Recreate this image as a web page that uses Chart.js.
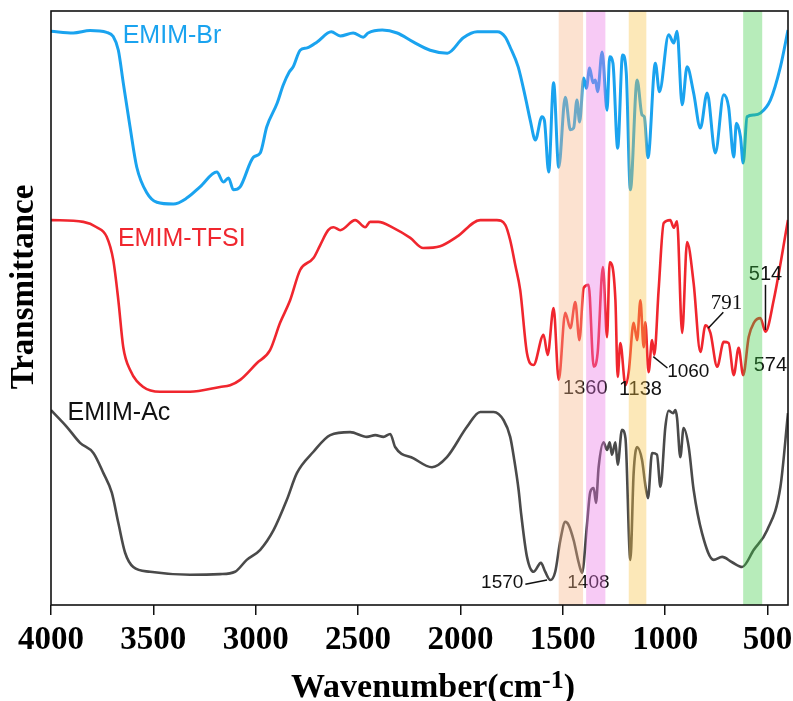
<!DOCTYPE html>
<html><head><meta charset="utf-8">
<script src="https://cdn.jsdelivr.net/npm/chart.js@4"></script>
<style>html,body{margin:0;padding:0;background:#fff}canvas{display:block}</style>
</head><body>
<canvas id="c" width="793" height="701"></canvas>
<script>
// ---- data (wavenumber in cm-1, transmittance in arbitrary offset units) ----
const xTickLabels = [4000, 3500, 3000, 2500, 2000, 1500, 1000, 500];
const seriesNames = ['EMIM-Br', 'EMIM-TFSI', 'EMIM-Ac'];

const brWavenumber = [4000,3891,3809,3728,3696,3671,3647,3614,3581,3532,3483,3402,3337,3272,3190,3158,3133,3109,3076,3011,2978,2946,2895,2866,2837,2817,2783,2749,2700,2631,2587,2524,2475,2451,2382,2309,2231,2148,2064,1986,1918,1820,1781,1757,1718,1683,1659,1634,1602,1590,1569,1545,1520,1488,1463,1447,1431,1418,1398,1385,1369,1352,1341,1330,1308,1284,1271,1255,1232,1208,1190,1170,1137,1113,1102,1084,1048,1028,983,958,942,917,893,861,828,795,755,714,690,665,652,632,619,600,567,535,486,437,400];
const brTransmittance = [96.6,96.3,96.7,96.4,95.7,93.4,87.9,80.5,73.7,69.4,67.8,67.5,68.5,70.4,72.9,71.2,71.9,69.9,70.4,75.4,76.1,80.5,84.5,87.5,89.7,90.6,93.4,93.8,94.8,96.5,95.8,96.3,95.6,96.3,96.8,96.3,94.8,93.4,92.9,95.5,96.5,96.5,95.6,93.9,90.6,85.5,81.6,78.3,82.2,81.6,72.9,87.9,73.7,85.5,80.0,80.3,85.0,81.3,88.7,87.0,90.4,87.9,88.4,86.4,93.1,83.3,92.3,91.2,76.9,92.6,89.6,69.9,88.4,82.5,82.2,75.3,91.2,86.4,96.0,94.6,96.6,84.2,90.6,86.2,80.3,86.2,76.1,85.9,83.8,75.4,81.1,78.8,74.4,82.2,82.5,82.8,85.0,90.6,96.8];

const tfsiWavenumber = [4000,3842,3777,3728,3696,3671,3647,3614,3549,3467,3321,3174,3125,3076,2995,2930,2881,2832,2783,2718,2685,2646,2620,2587,2514,2465,2441,2402,2328,2245,2182,2099,2017,1903,1822,1781,1757,1732,1708,1675,1643,1594,1574,1545,1520,1488,1463,1439,1419,1398,1374,1349,1330,1304,1284,1271,1243,1232,1219,1194,1178,1154,1137,1121,1105,1097,1081,1064,1053,1032,1007,975,958,942,917,893,861,828,803,779,746,714,690,665,641,619,592,567,535,510,470,400];
const tfsiTransmittance = [64.8,64.5,63.6,62.0,58.1,51.3,43.4,39.6,36.7,35.9,35.9,36.7,37.0,37.9,40.7,42.9,47.5,51.3,56.4,58.4,60.6,63.1,63.6,63.1,64.8,63.6,64.5,64.5,63.5,61.8,60.1,60.4,62.0,64.8,64.8,64.0,61.4,57.2,53.0,42.4,40.4,45.5,42.1,50.0,37.9,49.2,46.6,51.0,44.6,53.4,53.9,40.1,42.4,56.9,45.1,57.7,51.3,38.4,44.1,37.0,39.2,47.5,44.6,51.3,43.4,47.6,39.2,44.6,42.1,53.0,64.3,64.8,63.5,64.6,45.8,61.1,54.2,42.6,47.1,45.8,40.1,44.3,44.1,38.7,43.3,38.7,45.1,47.5,48.3,46.0,51.3,64.8];

const acWavenumber = [4000,3923,3858,3793,3744,3703,3671,3638,3598,3516,3321,3174,3101,3044,2978,2913,2848,2799,2718,2636,2539,2457,2416,2376,2343,2319,2229,2139,2066,1968,1903,1838,1789,1757,1737,1716,1703,1675,1643,1607,1586,1561,1537,1512,1488,1472,1447,1423,1406,1382,1366,1349,1338,1325,1301,1284,1271,1260,1243,1232,1211,1194,1170,1154,1137,1113,1097,1084,1064,1040,1023,999,983,961,950,942,926,910,885,861,820,763,722,673,624,567,502,437,400];
const acTransmittance = [32.8,30.0,27.3,25.6,22.2,18.9,13.8,8.8,6.4,5.6,5.1,5.2,5.6,7.6,9.3,12.6,17.7,22.2,25.8,28.6,29.1,28.3,28.6,28.3,28.8,26.6,24.7,23.2,24.9,30.0,32.5,32.5,31.1,28.3,24.4,19.4,15.2,8.1,5.6,7.1,5.6,4.2,5.6,10.9,14.0,13.5,10.9,7.2,5.4,13.5,19.0,19.7,17.2,23.2,27.4,26.1,27.4,25.3,27.4,23.6,29.5,28.1,7.6,22.2,26.6,24.4,20.2,18.0,25.6,25.3,19.9,30.0,32.7,32.3,32.8,31.5,24.9,29.8,26.6,19.4,12.1,7.6,8.1,7.2,6.4,9.3,12.6,19.9,32.3];

const peakLabels = ['1360', '1138', '1060', '791', '514', '574', '1570', '1408'];
const bandEdges = [[1520, 1401], [1386, 1292], [1178, 1092], [619, 526]];

// ---- presentation ----
const seriesColors = ['#1aa3ef', '#f0262e', '#4a4a4a'];
const seriesWidths = [3, 2.6, 2.6];
const bandColors = ['rgba(246,179,132,0.38)', 'rgba(235,115,229,0.38)', 'rgba(246,195,69,0.38)', 'rgba(55,201,64,0.36)'];
const seriesLabelPos = [[3409, 95.8], [3361, 61.6], [3668, 32.3]];
const peakLabelStyle = [
  {wn:1390, t:36.5, font:'20px "Liberation Sans"'},
  {wn:1121, t:36.2, font:'20px "Liberation Sans"'},
  {wn:887,  t:39.2, font:'19px "Liberation Sans"', lead:[[1058,41.8],[989,39.9]]},
  {wn:701,  t:50.7, font:'21px "Liberation Serif"', lead:[[790,46.6],[716,49.3]]},
  {wn:510,  t:55.6, font:'20px "Liberation Sans"', lead:[[510,53.9],[510,46.3]]},
  {wn:486,  t:40.4, font:'20px "Liberation Sans"'},
  {wn:1796, t:3.8,  font:'19px "Liberation Sans"', lead:[[1683,3.5],[1577,4.2]]},
  {wn:1375, t:3.8,  font:'19px "Liberation Sans"'}
];

function pts(xs, ys) { return xs.map((x, i) => ({x: x, y: ys[i]})); }
const seriesData = [pts(brWavenumber, brTransmittance), pts(tfsiWavenumber, tfsiTransmittance), pts(acWavenumber, acTransmittance)];

const overlay = {
  id: 'overlay',
  afterDatasetsDraw(chart) {
    const {ctx, chartArea: a, scales: {x, y}} = chart;
    ctx.save();
    ctx.textAlign = 'center';
    ctx.textBaseline = 'middle';
    seriesNames.forEach((n, i) => {
      ctx.font = '25px "Liberation Sans"';
      ctx.fillStyle = i === 2 ? '#111' : seriesColors[i];
      ctx.fillText(n, x.getPixelForValue(seriesLabelPos[i][0]), y.getPixelForValue(seriesLabelPos[i][1]));
    });
    peakLabels.forEach((t, i) => {
      const s = peakLabelStyle[i];
      ctx.font = s.font;
      ctx.fillStyle = '#111';
      ctx.fillText(t, x.getPixelForValue(s.wn), y.getPixelForValue(s.t));
      if (s.lead) {
        ctx.beginPath();
        ctx.strokeStyle = '#111';
        ctx.lineWidth = 1.5;
        ctx.moveTo(x.getPixelForValue(s.lead[0][0]), y.getPixelForValue(s.lead[0][1]));
        ctx.lineTo(x.getPixelForValue(s.lead[1][0]), y.getPixelForValue(s.lead[1][1]));
        ctx.stroke();
      }
    });
    bandEdges.forEach((b, i) => {
      const x1 = x.getPixelForValue(b[0]), x2 = x.getPixelForValue(b[1]);
      ctx.fillStyle = bandColors[i];
      ctx.fillRect(Math.min(x1, x2), a.top, Math.abs(x2 - x1), a.bottom - a.top);
    });
    ctx.restore();
  },
  afterDraw(chart) {
    const {ctx, chartArea: a} = chart;
    ctx.save();
    ctx.strokeStyle = '#111';
    ctx.lineWidth = 1.6;
    ctx.strokeRect(a.left, a.top, a.right - a.left, a.bottom - a.top);
    ctx.fillStyle = '#000';
    ctx.font = 'bold 33px "Liberation Serif"';
    ctx.textAlign = 'center';
    ctx.textBaseline = 'middle';
    ctx.translate(24, 287);
    ctx.rotate(-Math.PI / 2);
    ctx.fillText('Transmittance', 0, 0);
    ctx.restore();
    ctx.save();
    ctx.fillStyle = '#000';
    ctx.textBaseline = 'alphabetic';
    ctx.textAlign = 'left';
    const main = 'bold 34px "Liberation Serif"', sup = 'bold 26px "Liberation Serif"';
    ctx.font = main; const w1 = ctx.measureText('Wavenumber(cm').width; const w3 = ctx.measureText(')').width;
    ctx.font = sup; const w2 = ctx.measureText('-1').width;
    let x0 = 433 - (w1 + w2 + w3) / 2; const base = 697;
    ctx.font = main; ctx.fillText('Wavenumber(cm', x0, base);
    ctx.font = sup; ctx.fillText('-1', x0 + w1, base - 9);
    ctx.font = main; ctx.fillText(')', x0 + w1 + w2, base);
    ctx.restore();
  }
};

new Chart(document.getElementById('c'), {
  type: 'line',
  data: {
    datasets: seriesNames.map((n, i) => ({
      label: n,
      data: seriesData[i],
      borderColor: seriesColors[i],
      borderWidth: seriesWidths[i],
      pointRadius: 0,
      fill: false,
      cubicInterpolationMode: 'monotone'
    }))
  },
  options: {
    responsive: false,
    animation: false,
    devicePixelRatio: 1,
    layout: {padding: {top: 11, right: 5, left: 0, bottom: 0}},
    plugins: {legend: {display: false}, tooltip: {enabled: false}},
    scales: {
      x: {
        type: 'linear', reverse: true, min: 400, max: 4000,
        afterBuildTicks: s => { s.ticks = xTickLabels.map(v => ({value: v})); },
        afterFit: s => { s.height = 96; s.paddingLeft = 0; s.paddingRight = 0; },
        border: {display: false},
        grid: {display: true, drawOnChartArea: false, drawTicks: true, tickLength: 10, color: '#111', lineWidth: 1.5},
        ticks: {autoSkip: false, maxRotation: 0, padding: 6, color: '#000',
          font: {family: '"Liberation Serif"', weight: 'bold', size: 33},
          callback: v => String(v)}
      },
      y: {
        min: 0, max: 100,
        afterFit: s => { s.width = 51; s.paddingTop = 0; s.paddingBottom = 0; },
        border: {display: false},
        grid: {display: false},
        ticks: {display: false}
      }
    }
  },
  plugins: [overlay]
});
</script>
</body></html>
